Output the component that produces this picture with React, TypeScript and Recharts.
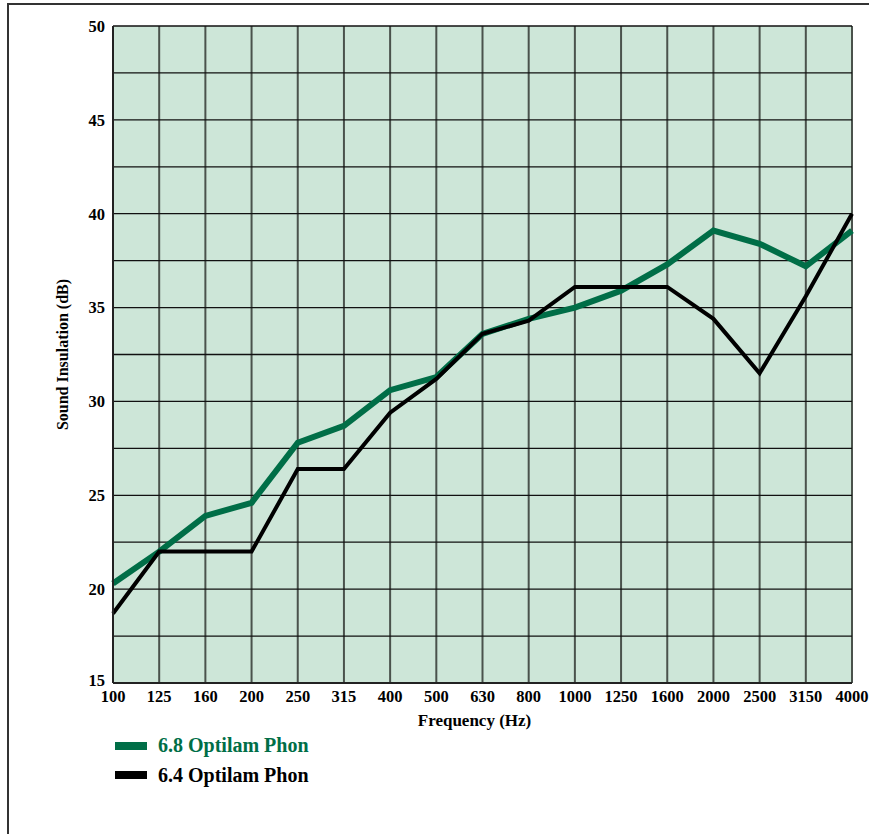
import { LineChart, Line, XAxis, YAxis, CartesianGrid, Label } from 'recharts';

const frequencies = ['100', '125', '160', '200', '250', '315', '400', '500', '630', '800', '1000', '1250', '1600', '2000', '2500', '3150', '4000'];
const phon68 = [20.3, 22.0, 23.9, 24.6, 27.8, 28.7, 30.6, 31.3, 33.6, 34.4, 35.0, 35.9, 37.3, 39.1, 38.4, 37.2, 39.1];
const phon64 = [18.7, 22.0, 22.0, 22.0, 26.4, 26.4, 29.4, 31.2, 33.6, 34.3, 36.1, 36.1, 36.1, 34.4, 31.5, 35.6, 40.0];
const yTicks = [15, 17.5, 20, 22.5, 25, 27.5, 30, 32.5, 35, 37.5, 40, 42.5, 45, 47.5, 50];

const GREEN = '#006E47';
const FONT = '"Liberation Serif", "Times New Roman", serif';

const data = frequencies.map((f, i) => ({ freq: f, a: phon68[i], b: phon64[i] }));

const series = [
  { key: 'a', name: '6.8 Optilam Phon', color: GREEN, width: 6 },
  { key: 'b', name: '6.4 Optilam Phon', color: '#000', width: 4 },
];

// only every 5 dB gets a label; the bottom one sits a bit higher, clear of "100"
function YTick({ x, y, payload }: any) {
  const v = payload.value as number;
  if (v % 5 !== 0) return null;
  return (
    <text x={x} y={v === 15 ? y - 3 : y} dy="0.355em" textAnchor="end" fill="#000" fontFamily={FONT} fontWeight="bold" fontSize={16.5}>
      {v}
    </text>
  );
}

export default function App() {
  return (
    <div style={{ position: 'absolute', left: 0, top: 0, width: 869, height: 834, overflow: 'hidden', background: '#fff' }}>
      <div style={{ position: 'absolute', left: 7, top: 3, width: 900, height: 900, border: '2px solid #333' }} />
      <div style={{ position: 'absolute', left: 0, top: 0 }}>
        <LineChart width={869} height={834} data={data} margin={{ top: 26, right: 17, left: 53, bottom: 121 }}>
          <CartesianGrid horizontal={false} vertical stroke="#4a524c" strokeWidth={2} fill="#CDE6D8" fillOpacity={1} />
          <CartesianGrid horizontal vertical={false} stroke="#111" strokeWidth={1.3} />
          <XAxis
            dataKey="freq"
            interval={0}
            tickLine={false}
            tickSize={0}
            tickMargin={7}
            height={30}
            axisLine={{ stroke: '#222', strokeWidth: 2 }}
            tick={{ fill: '#000', fontFamily: FONT, fontWeight: 'bold', fontSize: 16.5 }}
          >
            <Label value="Frequency (Hz)" position="insideBottom" offset={-13} dx={-8} style={{ fill: '#000', fontFamily: FONT, fontWeight: 'bold', fontSize: 17 }} />
          </XAxis>
          <YAxis
            type="number"
            domain={[15, 50]}
            ticks={yTicks}
            interval={0}
            width={60}
            tickLine={false}
            tickSize={0}
            tickMargin={8}
            axisLine={{ stroke: '#222', strokeWidth: 2 }}
            tick={<YTick />}
          >
            <Label value="Sound Insulation (dB)" angle={-90} position="insideLeft" offset={0} dx={9} style={{ textAnchor: 'middle', fill: '#000', fontFamily: FONT, fontWeight: 'bold', fontSize: 16 }} />
          </YAxis>
          {series.map((s) => (
            <Line key={s.key} type="linear" dataKey={s.key} name={s.name} stroke={s.color} strokeWidth={s.width} dot={false} isAnimationActive={false} />
          ))}
        </LineChart>
      </div>
      <div style={{ position: 'absolute', left: 115, top: 731, fontFamily: FONT, fontWeight: 'bold', fontSize: 20 }}>
        {series.map((s) => (
          <div key={s.key} style={{ display: 'flex', alignItems: 'center', height: 29.5, color: s.color }}>
            <span style={{ display: 'inline-block', width: 32, height: 8, background: s.color, marginRight: 11 }} />
            {s.name}
          </div>
        ))}
      </div>
    </div>
  );
}
